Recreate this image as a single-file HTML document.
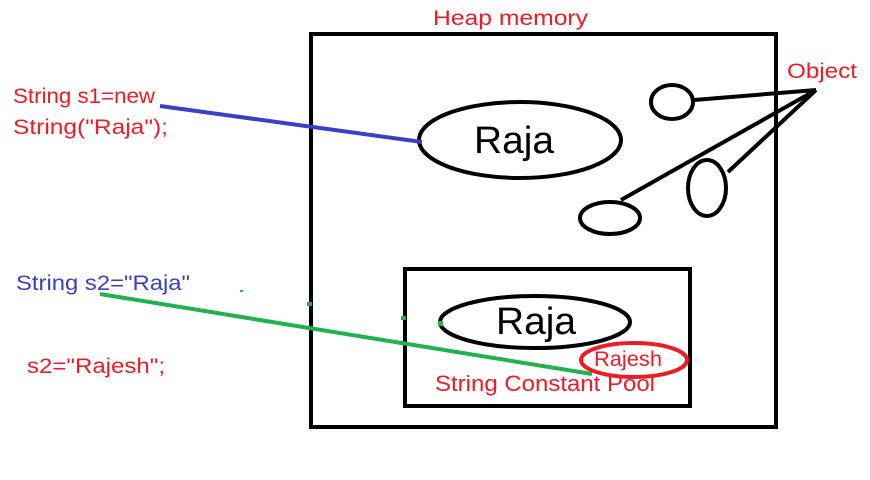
<!DOCTYPE html>
<html><head><style>body{margin:0;background:#fff}svg{display:block}text{font-family:"Liberation Sans",sans-serif}</style></head><body>
<svg width="870" height="480" xmlns="http://www.w3.org/2000/svg">
<rect x="311" y="34" width="465" height="393" fill="none" stroke="#000" stroke-width="4"/>
<rect x="405" y="269" width="285" height="137" fill="none" stroke="#000" stroke-width="4"/>
<ellipse cx="520" cy="140" rx="101" ry="38" fill="none" stroke="#000" stroke-width="4"/>
<text x="474" y="153" font-size="38" textLength="80" lengthAdjust="spacingAndGlyphs">Raja</text>
<ellipse cx="535" cy="322" rx="95" ry="26" fill="none" stroke="#000" stroke-width="4"/>
<text x="496" y="334" font-size="38" textLength="80" lengthAdjust="spacingAndGlyphs">Raja</text>
<ellipse cx="672" cy="102" rx="21" ry="17" fill="none" stroke="#000" stroke-width="4"/>
<ellipse cx="707" cy="188" rx="19" ry="28" fill="none" stroke="#000" stroke-width="4"/>
<ellipse cx="610" cy="218" rx="30" ry="16" fill="none" stroke="#000" stroke-width="4"/>
<g stroke="#000" stroke-width="4"><line x1="694" y1="100" x2="816" y2="90"/><line x1="621" y1="200" x2="816" y2="90"/><line x1="728" y1="172" x2="816" y2="90"/></g>
<line x1="160" y1="106" x2="422" y2="142" stroke="#3a3fc8" stroke-width="4"/>
<line x1="100" y1="294" x2="592" y2="374" stroke="#22b14c" stroke-width="4"/>
<g fill="#22b14c"><rect x="307" y="302" width="5" height="4"/><rect x="401" y="316" width="5" height="4"/><rect x="438" y="321" width="5" height="5"/><rect x="240" y="290" width="3" height="2"/></g>
<ellipse cx="634" cy="360" rx="53" ry="17" fill="none" stroke="#ed1c24" stroke-width="4"/>
<text x="594" y="366" font-size="21" fill="#ed1c24" textLength="68" lengthAdjust="spacingAndGlyphs">Rajesh</text>
<text x="435" y="391" font-size="22" fill="#ed1c24" textLength="220" lengthAdjust="spacingAndGlyphs">String Constant Pool</text>
<text x="433" y="25" font-size="21" fill="#ed1c24" textLength="155" lengthAdjust="spacingAndGlyphs">Heap memory</text>
<text x="787" y="78" font-size="21" fill="#ed1c24" textLength="70" lengthAdjust="spacingAndGlyphs">Object</text>
<text x="13" y="103" font-size="21" fill="#ed1c24" textLength="142" lengthAdjust="spacingAndGlyphs">String s1=new</text>
<text x="13" y="134" font-size="21" fill="#ed1c24" textLength="155" lengthAdjust="spacingAndGlyphs">String("Raja");</text>
<text x="16" y="290" font-size="21" fill="#3a3fc8" textLength="174" lengthAdjust="spacingAndGlyphs">String s2="Raja"</text>
<text x="27" y="373" font-size="21" fill="#ed1c24" textLength="138" lengthAdjust="spacingAndGlyphs">s2="Rajesh";</text>
</svg>
</body></html>
